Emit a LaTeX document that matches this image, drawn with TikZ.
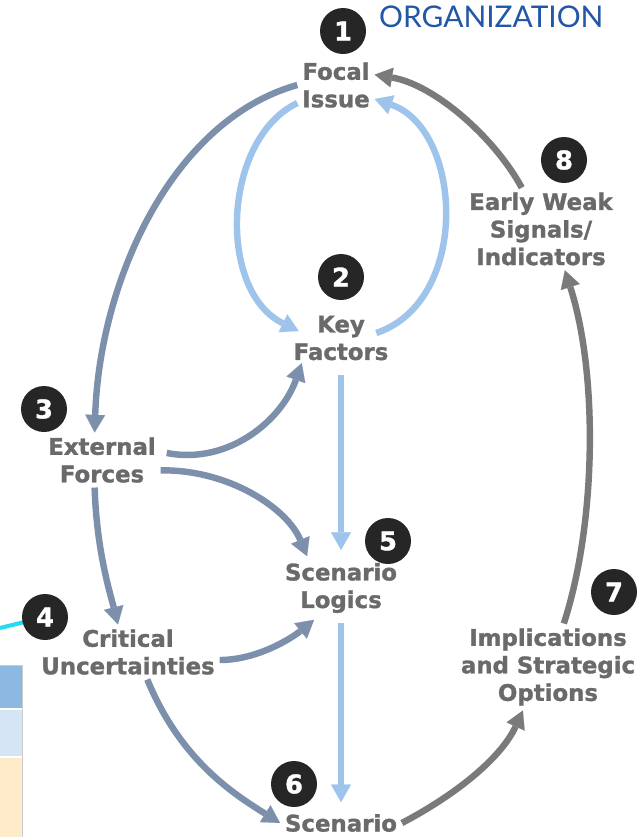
\documentclass[tikz,border=0pt]{standalone}
\usepackage{fontspec}
\setsansfont{DejaVu Sans}[BoldFeatures={FakeBold=1.3}]
\newfontfamily\orgfont{Lato}
\usetikzlibrary{arrows.meta}
\definecolor{text-grey}{HTML}{6A6A6A}
\definecolor{badge-dark}{HTML}{262626}
\definecolor{steel-blue}{HTML}{7D90AB}
\definecolor{sky-blue}{HTML}{9EC4EB}
\definecolor{flow-grey}{HTML}{7A7A7A}
\definecolor{org-blue}{HTML}{2256A6}
\definecolor{link-cyan}{HTML}{22DDF0}
\definecolor{cell-blue}{HTML}{8DB8E2}
\definecolor{cell-pale}{HTML}{D6E5F5}
\definecolor{cell-sand}{HTML}{FDEBC9}

\begin{document}
\begin{tikzpicture}[x=0.03cm, y=-0.03cm,
    stage/.style={font=\sffamily\bfseries\fontsize{19.5}{23.5}\selectfont,
                  text=text-grey, align=center, inner sep=4pt},
    badge/.style={circle, fill=badge-dark, minimum size=1.38cm, inner sep=0pt,
                  font=\sffamily\bfseries\fontsize{22}{22}\selectfont, text=white},
    flow/.style={line width=5.5pt,
                 -{Triangle[width=17pt, length=15pt, line width=0.1pt]}}]
    % Scenario cycle, coordinates in pixels (x right, y down)
    %   focal issue on top, key factors and scenario logics on the middle axis x=341
    %   external forces / critical uncertainties on the left, 7 and 8 on the right
    \useasboundingbox (0,0) rectangle (644,837);

    % cut-off table on the left edge
    \fill[cell-blue] (0,665) rectangle (22,708);
    \fill[cell-pale] (0,710) rectangle (22,756);
    \fill[cell-sand] (0,758) rectangle (22,837);
    \draw[gray!40, line width=0.5pt] (0,665) -- (22,665) -- (22,837);

    \node[font=\orgfont\fontsize{25.5}{25.5}\selectfont, text=org-blue, anchor=west]
      (org) at (375,17) {ORGANIZATION};

    \node[stage] (focal) at (336,85) {Focal\\Issue};
    \node[stage] (keyf) at (341,338) {Key\\Factors};
    \node[stage] (ext) at (102,460) {External\\Forces};
    \node[stage] (crit) at (128,652) {Critical\\Uncertainties};
    \node[stage] (logic) at (341,588) {Scenario\\Logics};
    \node[stage] (scen) at (341,823) {Scenario};
    \node[stage] (impl) at (548,667) {Implications\\and Strategic\\Options};
    \node[stage] (early) at (541,229) {Early Weak\\Signals/\\Indicators};

    \coordinate (cyan-in) at (0,628);
    \draw[link-cyan, line width=3.5pt] (cyan-in) -- (45,617);

    \node[badge] (focal-no) at (343,31) {1};
    \node[badge] (keyf-no) at (341,277) {2};
    \node[badge] (ext-no) at (44,409) {3};
    \node[badge] (crit-no) at (45,617) {4};
    \node[badge] (logic-no) at (388,541) {5};
    \node[badge] (scen-no) at (294,784) {6};
    \node[badge] (impl-no) at (614,592) {7};
    \node[badge] (early-no) at (564,160) {8};

    % connectors
    \draw[flow, steel-blue] (focal.west) .. controls +(-125,35) and +(5,-152) .. (ext.105);
    \draw[flow, sky-blue] (focal.205) .. controls +(-75,36) and +(-82,-40) .. ([shift={(10,-7)}]keyf.west);
    \draw[flow, sky-blue] ([shift={(-17,-5)}]keyf.east) .. controls +(95,-32) and +(88,30) .. (focal.-20);
    \draw[flow, sky-blue, shorten <=8pt, shorten >=7pt] (keyf.south) -- (logic.north);
    \draw[flow, sky-blue, shorten <=4pt, shorten >=6pt] (logic.south) -- (scen.north);
    \draw[flow, steel-blue] ([shift={(6,-7)}]ext.east) .. controls +(62,12) and +(-20,57) .. ([shift={(13,-2)}]keyf.south west);
    \draw[flow, steel-blue] (ext.-10) .. controls +(68,-1) and +(-20,-48) .. ([shift={(27,-2)}]logic.north west);
    \draw[flow, steel-blue] (ext.255) .. controls +(2,63) and +(-8,-32) .. (crit.110);
    \draw[flow, steel-blue] (crit.-5) .. controls +(38,0) and +(-22,18) .. ([shift={(34,2)}]logic.south west);
    \draw[flow, steel-blue] (crit.-55) .. controls +(33,80) and +(-48,-30) .. (scen.west);
    \draw[flow, flow-grey] (scen.east) .. controls +(57,-30) and +(-21,46) .. (impl.240);
    \draw[flow, flow-grey] (impl.70) .. controls +(33,-102) and +(33,102) .. (early.-60);
    \draw[flow, flow-grey] (early.115) .. controls +(-27,-50) and +(60,10) .. (focal.15);
\end{tikzpicture}
\end{document}
